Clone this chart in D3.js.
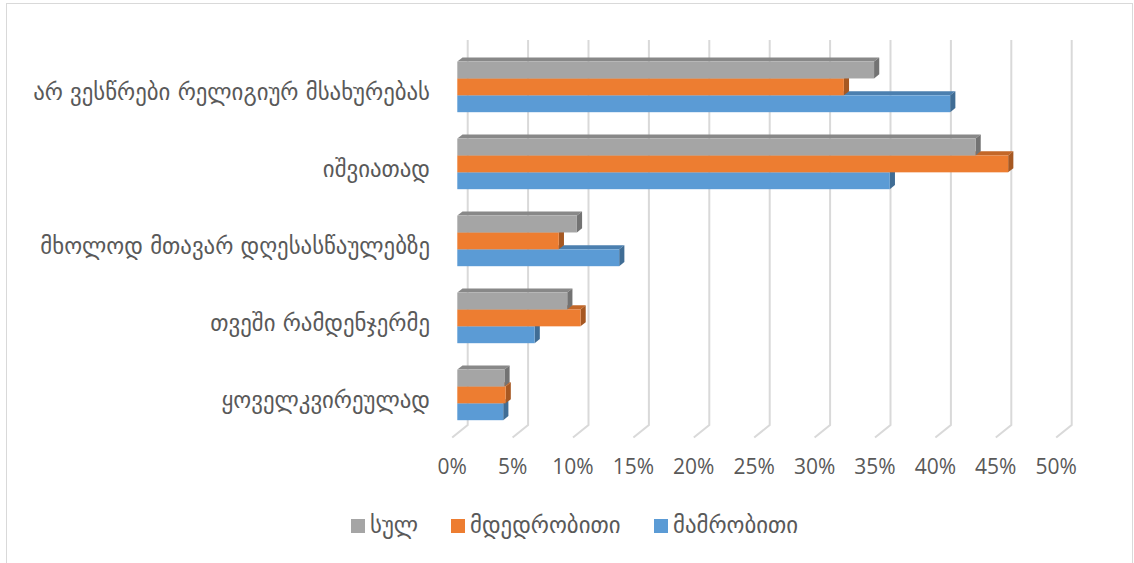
<!DOCTYPE html>
<html>
<head>
<meta charset="utf-8">
<script src="https://cdn.jsdelivr.net/npm/d3@7"></script>
<style>
  html, body { margin: 0; padding: 0; background: #fff; }
  svg { display: block; }
</style>
</head>
<body>
<svg id="chart" width="1134" height="563"></svg>
<script>
// ---- data ----
const categories = [
  "არ ვესწრები რელიგიურ მსახურებას",
  "იშვიათად",
  "მხოლოდ მთავარ დღესასწაულებზე",
  "თვეში რამდენჯერმე",
  "ყოველკვირეულად"
];
const seriesNames = ["სულ", "მდედრობითი", "მამრობითი"];
const totalValues  = [34.5, 42.9, 9.9, 9.1, 3.9];
const femaleValues = [32.0, 45.6, 8.4, 10.2, 4.0];
const maleValues   = [40.8, 35.8, 13.4, 6.4, 3.8];
const tickValues = [0, 5, 10, 15, 20, 25, 30, 35, 40, 45, 50];
const seriesColors = ["#A5A5A5", "#ED7D31", "#5B9BD5"];

const seriesValues = [totalValues, femaleValues, maleValues];

// ---- layout ----
const svg = d3.select("#chart");
const textColor = "#595959";
const georgianFont = "'DejaVu Sans', sans-serif";
const georgianSize = 22.8;

// chart border
svg.append("rect")
  .attr("x", 6.5).attr("y", 3.5).attr("width", 1126).attr("height", 575)
  .attr("fill", "none").attr("stroke", "#d9d9d9").attr("stroke-width", 1);

// back-wall scales
const xBack = d3.scaleLinear().domain([0, 50]).range([467.7, 1071.7]);
const wallTop = 40, wallBottom = 425;
const yBand = d3.scaleBand().domain(categories).range([wallTop, wallBottom])
  .paddingInner(0.343).paddingOuter(0.1715);
const ySub = d3.scaleBand().domain(seriesNames).range([0, yBand.bandwidth()]);

// oblique depth vectors
const floorDepth = { x: -15.5, y: 12.5 };   // wall -> front floor edge
const frontOff = { x: -10.4, y: 8.4 };      // wall -> bar front plane
const barDepth = { x: 5.2, y: -4.2 };       // bar front -> bar back

// gridlines (wall + floor)
const grid = svg.append("g");
tickValues.forEach(v => {
  const x = xBack(v);
  grid.append("path")
    .attr("d", `M${x},${wallTop}V${wallBottom}L${x + floorDepth.x},${wallBottom + floorDepth.y}`)
    .attr("fill", "none").attr("stroke", "#d9d9d9").attr("stroke-width", 2);
});

// bars: draw bottom series first so upper bars cover top faces
const bars = svg.append("g");
for (let c = 0; c < categories.length; c++) {
  for (let s = seriesNames.length - 1; s >= 0; s--) {
    const v = seriesValues[s][c];
    const x0 = xBack(0) + frontOff.x;
    const x1 = xBack(v) + frontOff.x;
    const y0 = yBand(categories[c]) + ySub(seriesNames[s]) + frontOff.y;
    const h = ySub.bandwidth();
    const base = d3.color(seriesColors[s]);
    const topCol = base.darker(0.55).formatHex();
    const sideCol = base.darker(1.0).formatHex();
    const bx = barDepth.x, by = barDepth.y;
    bars.append("polygon")
      .attr("points", [[x0, y0], [x1, y0], [x1 + bx, y0 + by], [x0 + bx, y0 + by]].map(p => p.join(",")).join(" "))
      .attr("fill", topCol);
    bars.append("polygon")
      .attr("points", [[x1, y0], [x1 + bx, y0 + by], [x1 + bx, y0 + h + by], [x1, y0 + h]].map(p => p.join(",")).join(" "))
      .attr("fill", sideCol);
    bars.append("rect")
      .attr("x", x0).attr("y", y0).attr("width", x1 - x0).attr("height", h)
      .attr("fill", seriesColors[s]);
  }
}

// category labels
svg.append("g").selectAll("text").data(categories).join("text")
  .attr("x", 430)
  .attr("y", d => yBand(d) + yBand.bandwidth() / 2 + floorDepth.y + 9)
  .attr("text-anchor", "end")
  .attr("font-family", georgianFont)
  .attr("font-size", georgianSize)
  .attr("fill", textColor)
  .text(d => d);

// x tick labels at the front floor edge
svg.append("g").selectAll("text").data(tickValues).join("text")
  .attr("x", d => xBack(d) + floorDepth.x)
  .attr("y", 474)
  .attr("text-anchor", "middle")
  .attr("font-family", "'Open Sans', sans-serif")
  .attr("font-size", 21)
  .attr("fill", textColor)
  .text(d => d + "%");

// legend
const legendX = [351, 451, 654];
const legend = svg.append("g");
seriesNames.forEach((name, i) => {
  legend.append("rect")
    .attr("x", legendX[i]).attr("y", 519).attr("width", 14).attr("height", 14)
    .attr("fill", seriesColors[i]);
  legend.append("text")
    .attr("x", legendX[i] + 19).attr("y", 533)
    .attr("font-family", georgianFont)
    .attr("font-size", georgianSize)
    .attr("fill", textColor)
    .text(name);
});
</script>
</body>
</html>
